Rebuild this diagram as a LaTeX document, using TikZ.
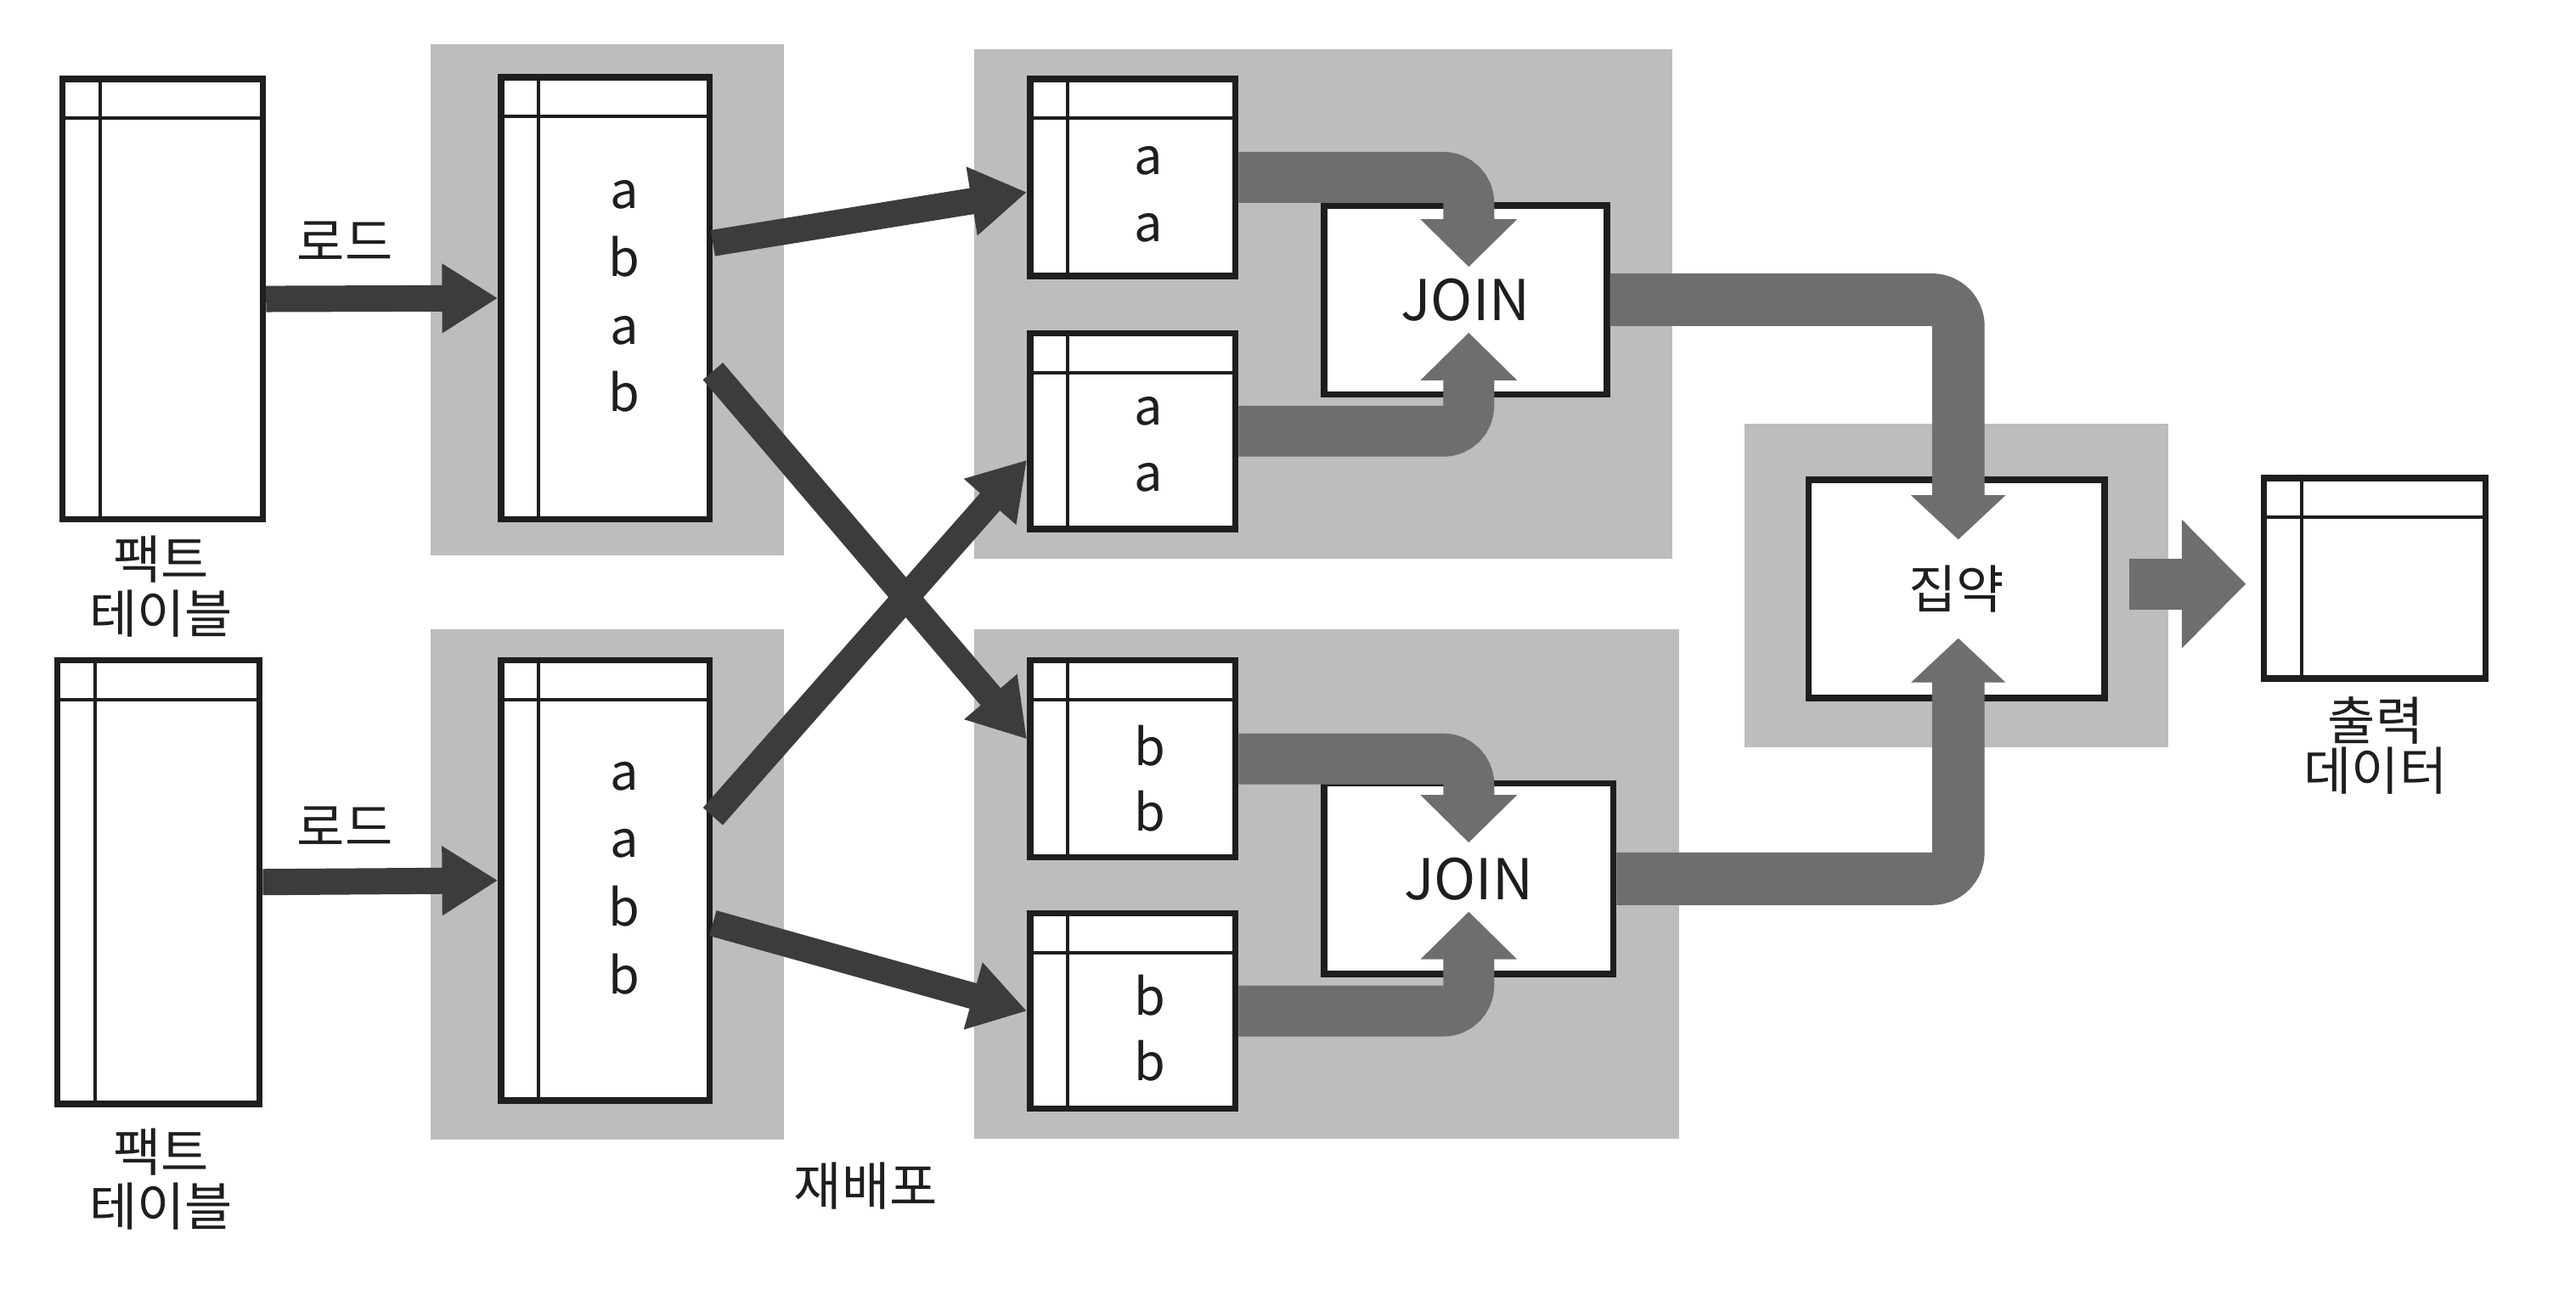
\documentclass[tikz,border=0pt]{standalone}
\usepackage{fontspec}
\newfontfamily\kr{Noto Sans CJK KR}
\usetikzlibrary{arrows.meta,calc}
\definecolor{panel}{HTML}{BDBDBD}
\definecolor{flow}{HTML}{6E6E6E}
\definecolor{darkarr}{HTML}{3C3C3C}
\definecolor{ink}{HTML}{1E1E1E}
\newcommand\placebox[7]{%
  \pgfmathsetmacro\pbcx{(#3+#5)/2}\pgfmathsetmacro\pbcy{(#4+#6)/2}%
  \pgfmathsetmacro\pbw{(#5-#3)*0.02}\pgfmathsetmacro\pbh{(#6-#4)*0.02}%
  \node[#2, minimum width=\pbw cm, minimum height=\pbh cm] (#1) at (\pbcx,\pbcy) {#7};}
\begin{document}
\begin{tikzpicture}[x=0.02cm,y=-0.02cm,
  tbl/.style={draw=ink, line width=2.2pt, fill=white, inner sep=0pt, path picture={
     \draw[ink, line width=1.2pt] ([yshift=-0.48cm]path picture bounding box.north west) -- ([yshift=-0.48cm]path picture bounding box.north east);
     \draw[ink, line width=1.2pt] ([xshift=0.46cm]path picture bounding box.north west) -- ([xshift=0.46cm]path picture bounding box.south west);}},
  procbox/.style={draw=ink, line width=2.2pt, fill=white, inner sep=0pt, text=ink},
  joinfont/.style={font=\kr\fontsize{19.5}{22}\selectfont},
  panelbox/.style={fill=panel, draw=none, inner sep=0pt},
  lbl/.style={font=\kr\fontsize{18}{20.4}\selectfont, text=ink, inner sep=0pt, align=center},
  val/.style={font=\kr\fontsize{17.5}{20}\selectfont, text=ink, inner sep=0pt, anchor=base},
  thinarrow/.style={draw=darkarr, line width=0.32cm, -{Triangle[length=0.68cm,width=0.8cm]}},
  flowarrow/.style={draw=flow, line width=0.62cm, rounded corners=0.31cm, -{Triangle[length=0.58cm,width=1.14cm]}},
  aggarrow/.style={draw=flow, line width=0.64cm, rounded corners=0.32cm, -{Triangle[length=0.54cm,width=1.12cm]}},
  outarrow/.style={draw=flow, line width=0.62cm, -{Triangle[length=0.78cm,width=1.52cm]}}
]
\useasboundingbox (0,0) rectangle (1568,788);
\fill[white] (0,0) rectangle (1568,788);
% panels
\placebox{P1}{panelbox}{262}{27}{477}{338}{}
\placebox{P2}{panelbox}{262}{383}{477}{694}{}
\placebox{P3}{panelbox}{593}{30}{1018}{340}{}
\placebox{P4}{panelbox}{593}{383}{1022}{693}{}
\placebox{P5}{panelbox}{1062}{258}{1320}{455}{}
% tables
\placebox{F1}{tbl}{38}{48}{160}{316}{}
\placebox{F2}{tbl}{35}{402}{158}{672}{}
\placebox{M1}{tbl}{305}{47}{432}{316}{}
\placebox{M2}{tbl}{305}{402}{432}{670}{}
\placebox{A1}{tbl}{627}{48}{752}{168}{}
\placebox{A2}{tbl}{627}{203}{752}{322}{}
\placebox{B1}{tbl}{627}{402}{752}{522}{}
\placebox{B2}{tbl}{627}{556}{752}{675}{}
\placebox{OUT}{tbl}{1378}{291}{1513}{413}{}
% process boxes
\placebox{J1}{procbox,joinfont}{806}{125}{978}{240}{JOIN}
\placebox{J2}{procbox,joinfont}{806}{477}{982}{593}{JOIN}
\placebox{AG}{procbox,lbl}{1101}{292}{1281}{425}{집약}
% load arrows
\draw[thinarrow] (F1.east) -- (M1.west);
\draw[thinarrow] (F2.east) -- (M2.west);
% redistribution arrows
\draw[thinarrow] ($(M1.east)+(0,-33.5)$) -- ($(A1.west)+(0,9)$);
\draw[thinarrow] ($(M1.east)+(0,44.5)$) -- ($(B1.west)+(0,-12)$);
\draw[thinarrow] ($(M2.east)+(0,-39)$) -- ($(A2.west)+(0,17.5)$);
\draw[thinarrow] ($(M2.east)+(0,26)$) -- (B2.west);
% join inputs
\draw[flowarrow] (A1.east) -| ($(J1.center)+(2,-20)$);
\draw[flowarrow] (A2.east) -| ($(J1.center)+(2,20)$);
\draw[flowarrow] (B1.east) -| ($(J2.center)+(0,-22)$);
\draw[flowarrow] (B2.east) -| ($(J2.center)+(0,20)$);
% aggregation inputs
\draw[aggarrow] (J1.east) -| ($(AG.center)+(1,-30)$);
\draw[aggarrow] (J2.east) -| ($(AG.center)+(1,30)$);
% output
\draw[outarrow] ($(AG.east)+(13,-3)$) -- ($(OUT.west |- AG.east)+(-9,-3)$);
% labels
\node[lbl] (load1) at (210,147) {로드};
\node[lbl] (load2) at (210,503) {로드};
\node[lbl, font=\kr\fontsize{18}{20.4}\selectfont] (fact1) at (98,357) {팩트\\[-1.5pt]테이블};
\node[lbl] (fact2) at (98,718) {팩트\\[-1.5pt]테이블};
\node[lbl] (redis) at (527,722) {재배포};
\node[lbl] (outlbl) at (1446,454) {출력\\[-3pt]데이터};
% values
\node[val] (m1a) at (380,127) {a};
\node[val] (m1b) at (380,168.5) {b};
\node[val] (m1c) at (380,209.5) {a};
\node[val] (m1d) at (380,250.5) {b};
\node[val] (m2a) at (380,481) {a};
\node[val] (m2b) at (380,522) {a};
\node[val] (m2c) at (380,563.5) {b};
\node[val] (m2d) at (380,605) {b};
\node[val] (a1a) at (699,106) {a};
\node[val] (a1b) at (699,147) {a};
\node[val] (a2a) at (699,259) {a};
\node[val] (a2b) at (699,299) {a};
\node[val] (b1a) at (700,466) {b};
\node[val] (b1b) at (700,506) {b};
\node[val] (b2a) at (700,618) {b};
\node[val] (b2b) at (700,658) {b};
\end{tikzpicture}
\end{document}
